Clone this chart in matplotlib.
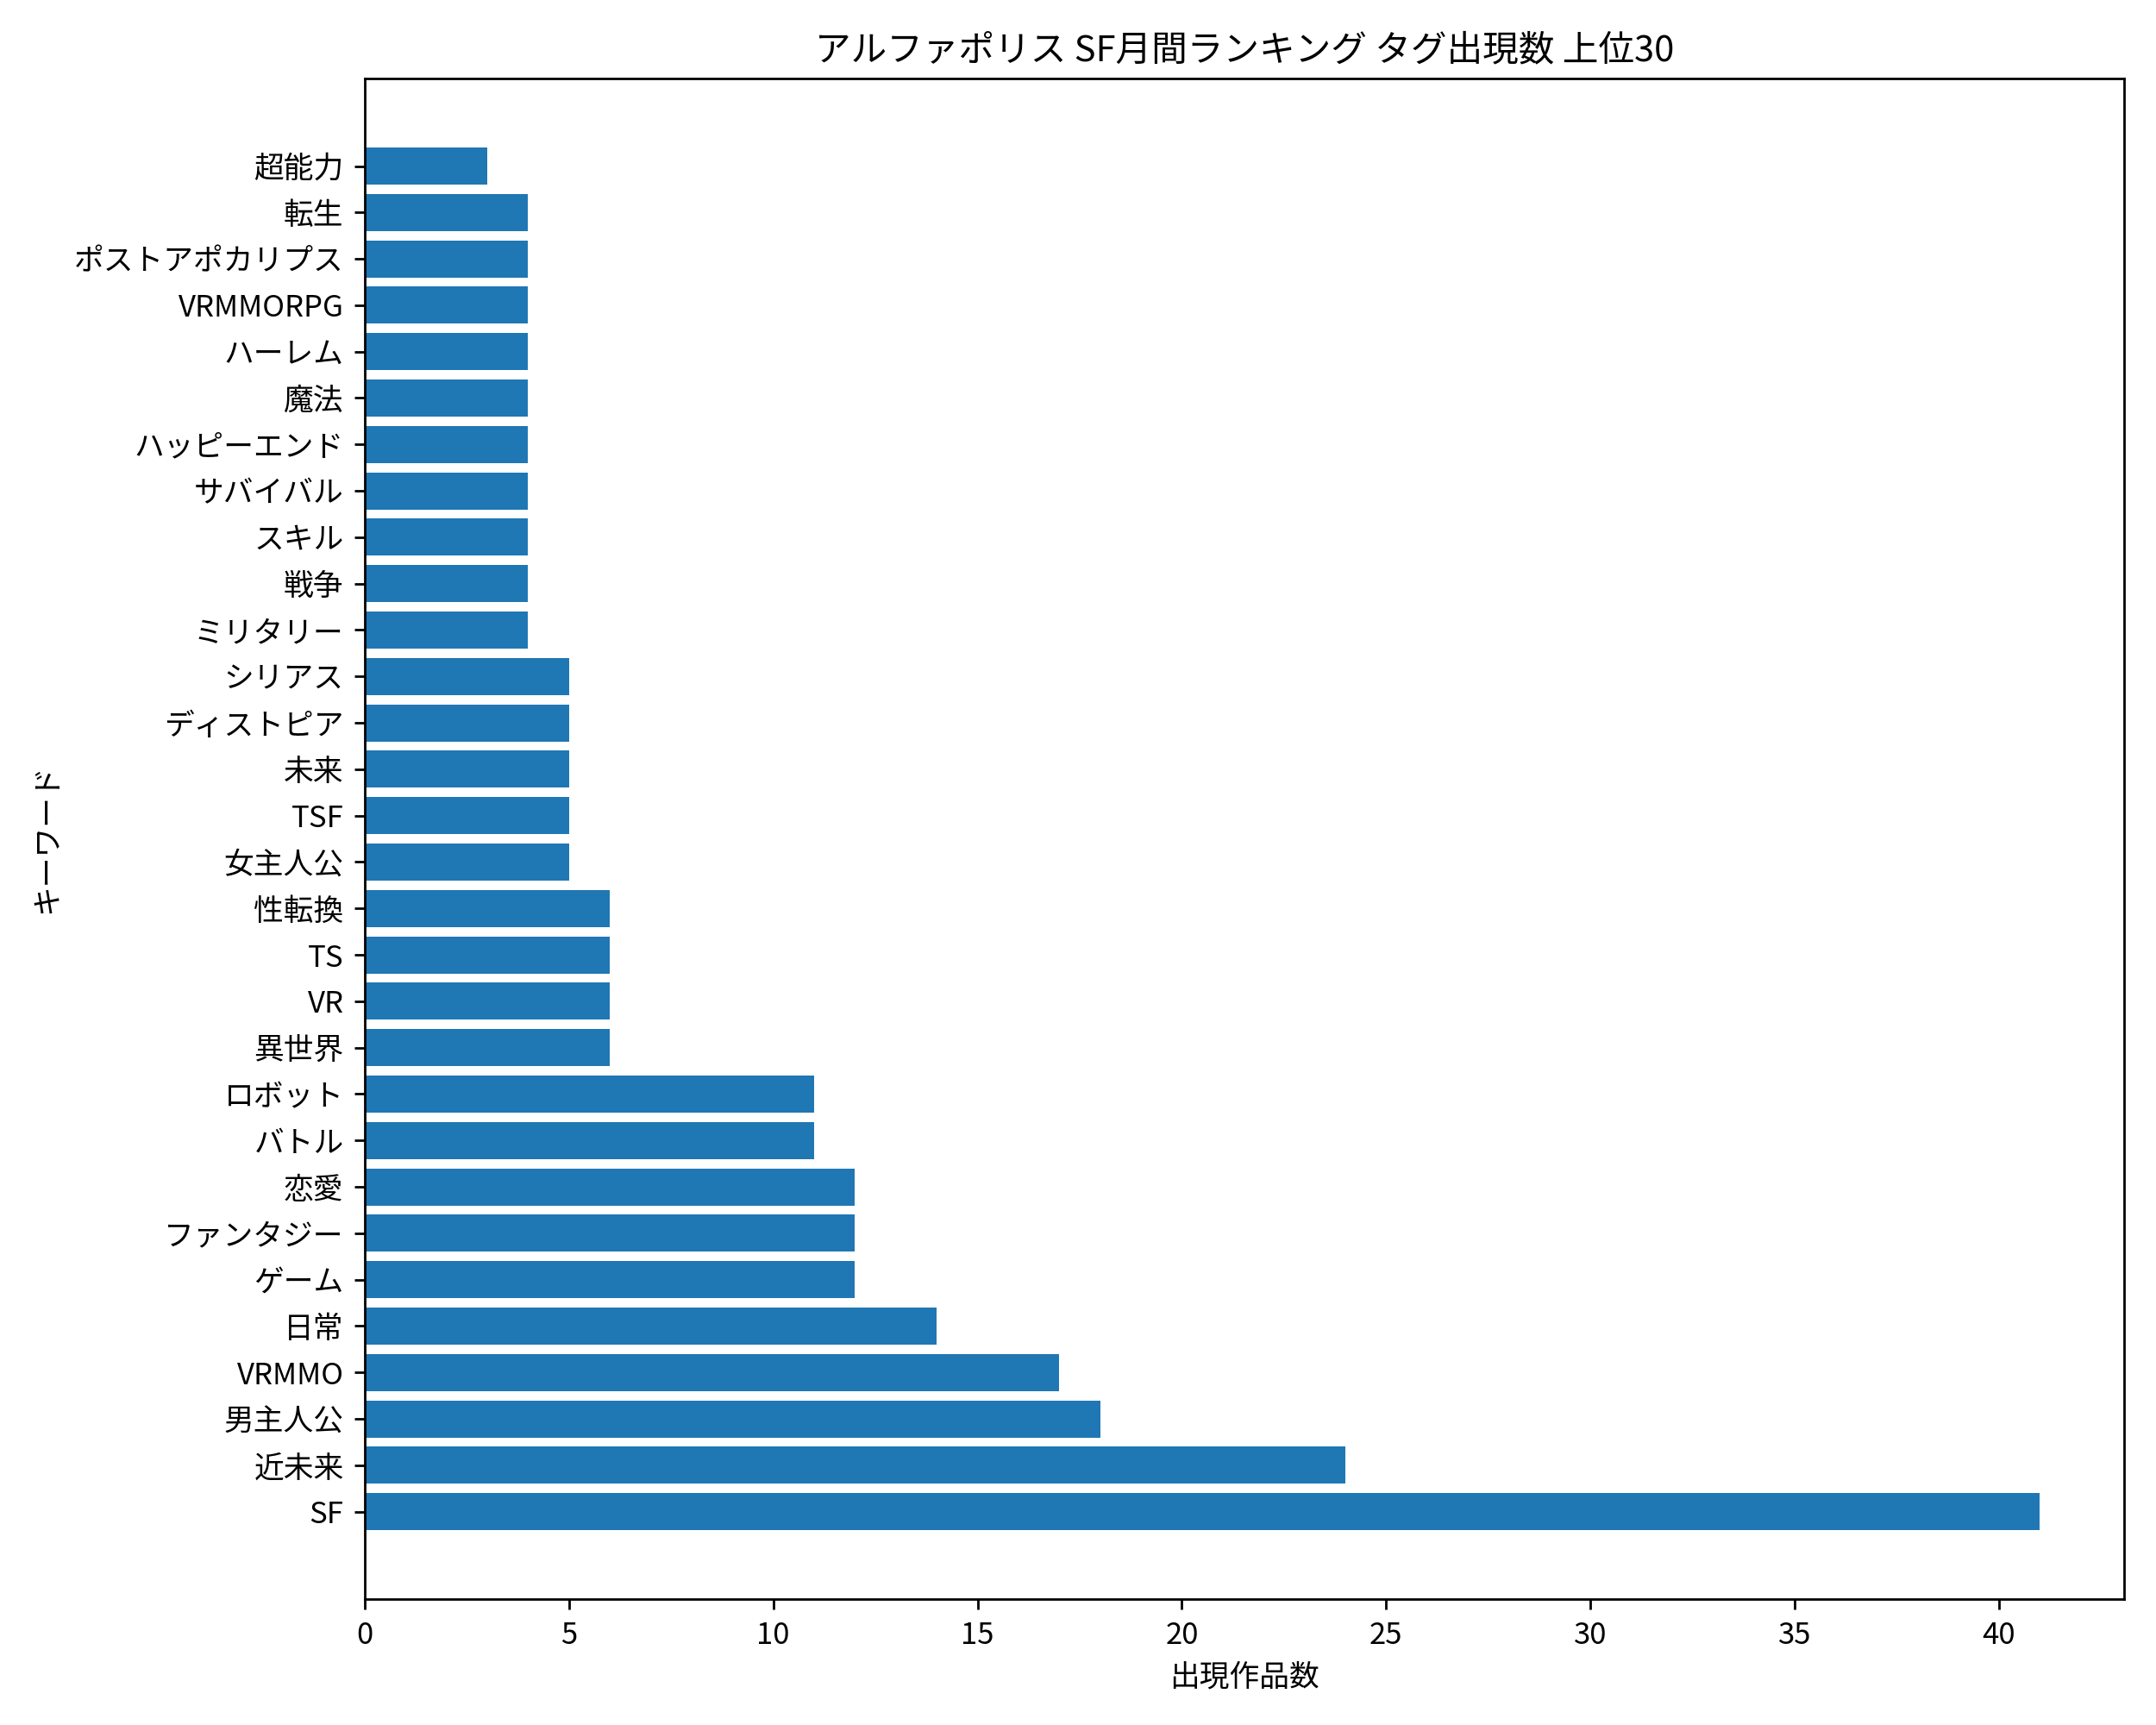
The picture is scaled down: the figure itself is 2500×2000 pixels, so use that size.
import matplotlib
matplotlib.use("Agg")
import matplotlib.pyplot as plt

plt.rcParams['font.family'] = ['Noto Sans CJK JP', 'DejaVu Sans']

# タグと出現作品数（上から順）
tags = ['SF', '近未来', '男主人公', 'VRMMO', '日常', 'ゲーム', 'ファンタジー', '恋愛',
        'バトル', 'ロボット', '異世界', 'VR', 'TS', '性転換', '女主人公', 'TSF', '未来',
        'ディストピア', 'シリアス', 'ミリタリー', '戦争', 'スキル', 'サバイバル',
        'ハッピーエンド', '魔法', 'ハーレム', 'VRMMORPG', 'ポストアポカリプス', '転生', '超能力']
counts = [41, 24, 18, 17, 14, 12, 12, 12, 11, 11, 6, 6, 6, 6, 5, 5, 5, 5, 5,
          4, 4, 4, 4, 4, 4, 4, 4, 4, 4, 3]

fig, ax = plt.subplots(figsize=(10, 8))

ax.barh(tags, counts, color='#1f77b4')

ax.set_xlabel('出現作品数')
ax.set_ylabel('キーワード')
ax.set_title('アルファポリス SF月間ランキング タグ出現数 上位30')

fig.tight_layout()
fig.savefig('out.png', dpi=250)
